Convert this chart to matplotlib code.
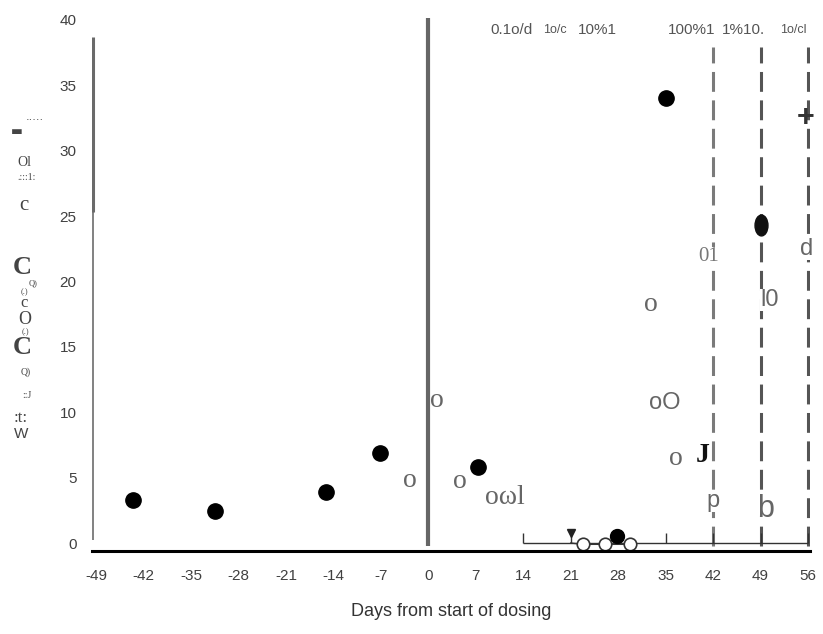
import numpy as np
import matplotlib
matplotlib.use("Agg")
import matplotlib.pyplot as plt
from matplotlib.path import Path

plt.rcParams['font.family'] = ['Liberation Sans', 'DejaVu Sans']
plt.rcParams['axes.unicode_minus'] = False

# --- data ---
days_ticks = np.arange(-49, 57, 7)
y_ticks = np.arange(0, 41, 5)

# filled (measured) points
filled_x = [-43.5, -31.4, -15.1, -7.1, 7.4, 35.0]
filled_y = [3.3, 2.45, 3.9, 6.9, 5.8, 34.0]
ellipse_x = [49.0]
ellipse_y = [24.3]

# cluster near the baseline
open_x = [22.8, 26.1, 29.7]
open_y = [-0.1, -0.1, -0.1]
low_filled_x = [27.8]
low_filled_y = [0.5]
bar_day = 21
bar_top = 0.75

# dosing reference lines
dose_days = [42, 49, 56]
dose_colors = ['#7a7a7a', '#555555', '#555555']
base_ticks = [14, 35, 42, 49, 56]

# scanned-in text fragments (data coords)
serif_x = [1.3, -2.7, 4.7, 11.3, 32.8, 36.5]
serif_y = [10.9, 4.8, 4.7, 3.5, 18.2, 6.5]
serif_txt = ['o', 'o', 'o', 'oωl', 'o', 'o']
sans_x = [34.9, 50.3, 55.8, 42.0, 49.7]
sans_y = [10.7, 18.6, 22.5, 3.2, 2.6]
sans_txt = ['oO', 'l0', 'd', 'p', 'b']
top_x = [12.3, 18.6, 25.0, 38.8, 46.5, 53.9]
top_txt = ['0.1o/d', '1o/c', '10%1', '100%1', '1%10.', '1o/cl']

fig = plt.figure(figsize=(8.23, 6.34), dpi=100)
ax = fig.add_axes([92 / 823, 83 / 634, 718 / 823, 533 / 634])
ax.set_xlim(-49.6, 56.3)
ax.set_ylim(-0.61, 40.14)

for s in ['top', 'right', 'left']:
    ax.spines[s].set_visible(False)
ax.spines['bottom'].set_linewidth(2.2)
ax.spines['bottom'].set_color('black')

ax.set_xticks(days_ticks)
ax.set_yticks(y_ticks)
ax.tick_params(axis='x', length=0, pad=13, labelsize=11, labelcolor='#404040')
ax.tick_params(axis='y', length=0, pad=11, labelsize=11, labelcolor='#404040')
ax.set_xlabel('Days from start of dosing', fontsize=13, color='#333333', labelpad=14)

# left axis line (scanned, two weights)
ax.vlines(-49.45, 0.2, 25.3, color='#777777', lw=1.3)
ax.vlines(-49.45, 25.3, 38.7, color='#6a6a6a', lw=2.2)

# start of dosing line
ax.vlines(0, -0.2, 40.14, color='#666666', lw=3)

# dosing dashed lines
for d, c in zip(dose_days, dose_colors):
    ax.vlines(d, -0.2, 37.9, color=c, lw=2.2, linestyles=(0, (6.5, 2.8)))

# baseline scale
ax.hlines(0, 14, 56, color='#333333', lw=1)
ax.vlines(base_ticks, 0, 0.75, color='#333333', lw=1)
ax.vlines(bar_day, 0, bar_top, color='#333333', lw=1)
ax.plot([bar_day], [bar_top], marker='v', color='#222222', ms=6)
ax.plot([bar_day] + open_x, [0] + open_y, color='#333333', lw=1)
ax.plot(open_x, open_y, 'o', ms=9, mfc='white', mec='#333333', mew=1.2)
ax.plot(low_filled_x, low_filled_y, 'o', ms=10, color='black')

ax.plot(filled_x, filled_y, 'o', ms=11, color='black', clip_on=False)
circ = Path.unit_circle()
tall = Path(circ.vertices * [0.62, 1.0], circ.codes)
ax.plot(ellipse_x, ellipse_y, marker=tall, ls='none', ms=15, color='#111111')

for x, y, t in zip(serif_x, serif_y, serif_txt):
    ax.text(x, y, t, family='Liberation Serif', fontsize=20,
            color='#666666', ha='center', va='center')
ax.text(41.3, 21.9, '01', family='Liberation Serif', fontsize=15, color='#777777',
        ha='center', va='center', zorder=5,
        bbox=dict(fc='white', ec='none', pad=0))
ax.text(40.4, 6.7, 'J', family='Liberation Serif', fontsize=20, fontweight='bold',
        color='#111111', ha='center', va='center')
for x, y, t in zip(sans_x, sans_y, sans_txt):
    ax.text(x, y, t, fontsize=22 if t == 'b' else 17, color='#666666',
            ha='center', va='center', zorder=5,
            bbox=dict(fc='white', ec='none', pad=0))
ax.text(55.6, 32.5, '+', fontsize=22, fontweight='bold', color='#333333',
        ha='center', va='center', zorder=5)
for x, t in zip(top_x, top_txt):
    small = t in ('1o/c', '1o/cl')
    ax.text(x, 39.2, t, fontsize=9 if small else 11, color='#555555',
            ha='center', va='center')

# garbled y-axis label (scanned fragments)
ylab = [
    (17, 131, '▬', 9, 'DejaVu Sans'), (35, 120, '·····', 8, 'DejaVu Sans'),
    (24, 163, 'Ol', 10, 'Liberation Serif'), (27, 178, '.:::1:', 7, 'Liberation Serif'),
    (24, 206, 'c', 15, 'Liberation Serif'), (22, 268, 'C', 19, 'Liberation Serif'),
    (33, 283, 'Q)', 6, 'Liberation Serif'), (24, 292, '(.)', 6, 'Liberation Serif'),
    (24, 303, 'c', 12, 'Liberation Serif'), (25, 319, 'O', 13, 'Liberation Serif'),
    (25, 332, '(.)', 6, 'Liberation Serif'), (22, 348, 'C', 19, 'Liberation Serif'),
    (26, 372, 'Q)', 7, 'Liberation Serif'), (27, 395, '::J', 7, 'Liberation Serif'),
    (21, 418, ':t:', 12, 'Liberation Serif'), (21, 434, 'W', 11, 'Liberation Sans'),
]
for px, py, t, fs, fam in ylab:
    fig.text(px / 823, 1 - py / 634, t, fontsize=fs, family=fam, color='#444444',
             ha='center', va='center', fontweight='bold' if t == 'C' else 'normal')

fig.savefig('out.png', dpi=100)
